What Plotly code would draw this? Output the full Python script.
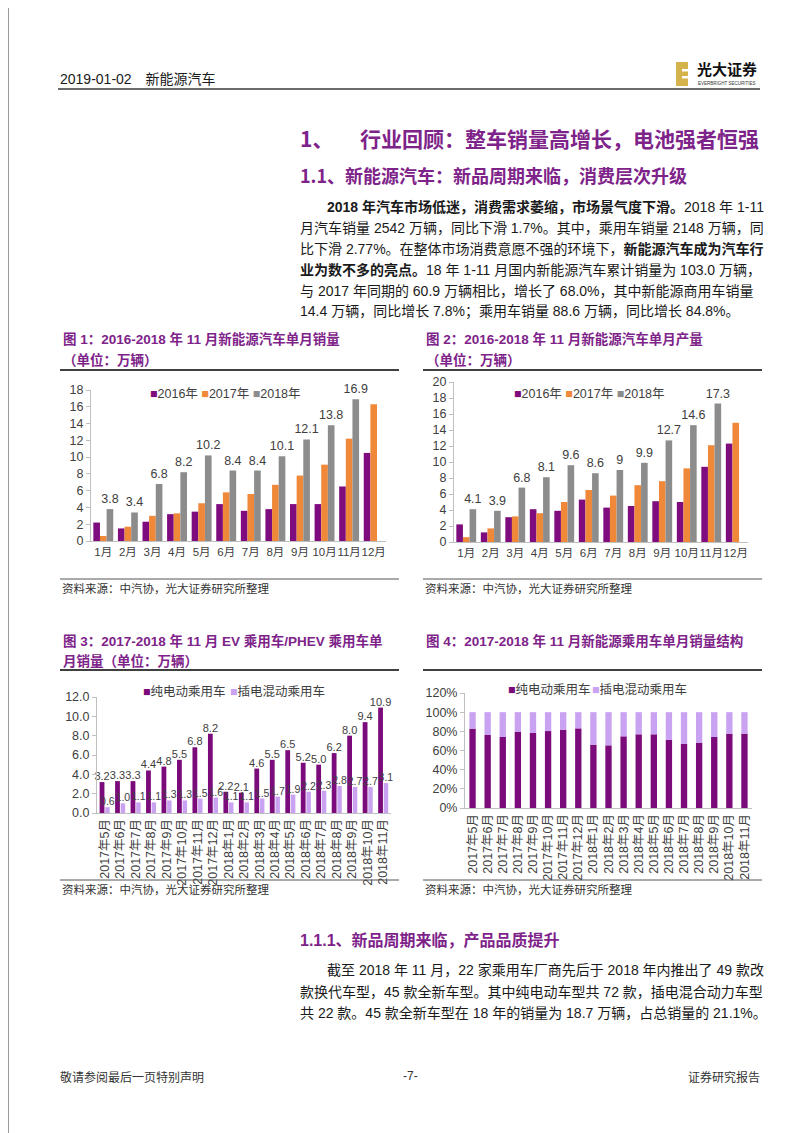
import plotly.graph_objects as go

W, H = 802, 1133

# ---------------- data ----------------
months = ["1月", "2月", "3月", "4月", "5月", "6月", "7月", "8月", "9月", "10月", "11月", "12月"]
sales_2016 = [2.2, 1.5, 2.3, 3.2, 3.5, 4.4, 3.6, 3.8, 4.4, 4.4, 6.5, 10.5]
sales_2017 = [0.6, 1.7, 3.0, 3.3, 4.5, 5.8, 5.6, 6.7, 7.8, 9.1, 12.2, 16.3]
sales_2018 = [3.8, 3.4, 6.8, 8.2, 10.2, 8.4, 8.4, 10.1, 12.1, 13.8, 16.9, None]

prod_2016 = [2.2, 1.2, 3.1, 4.1, 3.9, 5.3, 4.3, 4.5, 5.1, 5.0, 9.4, 12.3]
prod_2017 = [0.6, 1.7, 3.2, 3.6, 5.0, 6.5, 5.8, 7.1, 7.6, 9.2, 12.1, 14.9]
prod_2018 = [4.1, 3.9, 6.8, 8.1, 9.6, 8.6, 9.0, 9.9, 12.7, 14.6, 17.3, None]

ym = ["2017年5月", "2017年6月", "2017年7月", "2017年8月", "2017年9月", "2017年10月",
      "2017年11月", "2017年12月", "2018年1月", "2018年2月", "2018年3月", "2018年4月",
      "2018年5月", "2018年6月", "2018年7月", "2018年8月", "2018年9月", "2018年10月",
      "2018年11月"]
ev_sales = [3.2, 3.3, 3.3, 4.4, 4.8, 5.5, 6.8, 8.2, 2.2, 2.1, 4.6, 5.5, 6.5, 5.2, 5.0, 6.2, 8.0, 9.4, 10.9]
phev_sales = [0.6, 1.0, 1.1, 1.1, 1.3, 1.3, 1.5, 1.6, 1.1, 1.1, 1.5, 1.7, 1.9, 2.2, 2.3, 2.8, 2.7, 2.7, 3.1]

ev_share = [0.828, 0.762, 0.741, 0.797, 0.783, 0.803, 0.817, 0.831, 0.661, 0.654, 0.748,
            0.769, 0.769, 0.71, 0.668, 0.682, 0.741, 0.776, 0.776]
phev_share = [1 - v for v in ev_share]

series_years = ["2016年", "2017年", "2018年"]
ev_name, phev_name = "纯电动乘用车", "插电混动乘用车"

# ---------------- styles ----------------
C16, C17, C18 = "#7E0C7E", "#F0883A", "#8C8C8C"
CEV, CPHEV = "#7B0B7B", "#C9A3F2"
PURPLE = "#7E2389"
AX = "#BFBFBF"
TXT = "#404040"
CJK = "Noto Sans CJK SC"
NUMF = "Liberation Sans, Noto Sans CJK SC"
BODYF = "Liberation Sans Narrow, Liberation Sans, Noto Sans CJK SC"


def fx(px):
    return px / W


def fy(py):
    return 1 - py / H


fig = go.Figure()

# chart 1 & 2 bars
for (vals, col, off), name in zip([(sales_2016, C16, -0.405), (sales_2017, C17, -0.135), (sales_2018, C18, 0.135)], series_years):
    lab = name == "2018年"
    fig.add_trace(go.Bar(x=months, y=vals, name=name, marker=dict(color=col, line=dict(width=0)),
                         width=0.27, offset=off, xaxis="x", yaxis="y", showlegend=False,
                         texttemplate="%{y}" if lab else None,
                         textposition="outside" if lab else "none",
                         constraintext="none", cliponaxis=False,
                         textfont=dict(family=NUMF, size=12.5, color=TXT)))
for (vals, col, off), name in zip([(prod_2016, C16, -0.405), (prod_2017, C17, -0.135), (prod_2018, C18, 0.135)], series_years):
    lab = name == "2018年"
    fig.add_trace(go.Bar(x=months, y=vals, name=name, marker=dict(color=col, line=dict(width=0)),
                         width=0.27, offset=off, xaxis="x2", yaxis="y2", showlegend=False,
                         texttemplate="%{y}" if lab else None,
                         textposition="outside" if lab else "none",
                         constraintext="none", cliponaxis=False,
                         textfont=dict(family=NUMF, size=12.5, color=TXT)))

# chart 3
fig.add_trace(go.Bar(x=ym, y=ev_sales, name=ev_name, marker=dict(color=CEV, line=dict(width=0)),
                     width=0.31, offset=-0.33, xaxis="x3", yaxis="y3", showlegend=False,
                     texttemplate="%{y:.1f}", textposition="outside", constraintext="none",
                     cliponaxis=False, textfont=dict(family=NUMF, size=11, color=TXT)))
fig.add_trace(go.Bar(x=ym, y=phev_sales, name=phev_name, marker=dict(color=CPHEV, line=dict(width=0)),
                     width=0.29, offset=0.03, xaxis="x3", yaxis="y3", showlegend=False,
                     texttemplate="%{y:.1f}", textposition="outside", constraintext="none",
                     cliponaxis=False, textfont=dict(family=NUMF, size=10.5, color=TXT)))

# chart 4 (stacked via base)
fig.add_trace(go.Bar(x=ym, y=ev_share, name=ev_name, marker=dict(color=CEV, line=dict(width=0)),
                     width=0.42, offset=-0.21, xaxis="x4", yaxis="y4", showlegend=False))
fig.add_trace(go.Bar(x=ym, y=phev_share, base=ev_share, name=phev_name,
                     marker=dict(color=CPHEV, line=dict(width=0)),
                     width=0.42, offset=-0.21, xaxis="x4", yaxis="y4", showlegend=False))


def xax(l, r, angle=0, size=12):
    return dict(domain=[fx(l), fx(r)], showline=True, linecolor=AX, linewidth=1,
                ticks="", showgrid=False, zeroline=False, tickangle=angle,
                tickfont=dict(family=NUMF, size=size, color=TXT), automargin=False, fixedrange=True)


def yax(b, t, rng, dtick, fmt=None):
    d = dict(domain=[fy(b), fy(t)], range=rng, dtick=dtick, showline=True, linecolor=AX,
             linewidth=1, ticks="outside", ticklen=4, tickcolor=AX, showgrid=False,
             zeroline=False, tickfont=dict(family=NUMF, size=12.5, color=TXT), automargin=False,
             fixedrange=True)
    if fmt:
        d["tickformat"] = fmt
    return d


layout = dict(
    width=W, height=H, margin=dict(l=0, r=0, t=0, b=0),
    paper_bgcolor="white", plot_bgcolor="white", barmode="overlay", showlegend=False,
    font=dict(family=CJK, color="#222"),
)
x1 = xax(83, 378, 0, 11.5); x1["anchor"] = "y"
x2 = xax(446, 740, 0, 11.5); x2["anchor"] = "y2"
x3 = xax(89, 383, -90, 12.5); x3["anchor"] = "y3"
x4 = xax(457, 744, -90, 12.5); x4["anchor"] = "y4"
y1 = yax(533, 382, [0, 18], 2); y1["anchor"] = "x"
y2 = yax(534, 374, [0, 20], 2); y2["anchor"] = "x2"
y3 = yax(805, 689, [0, 12], 2, ".1f"); y3["anchor"] = "x3"
y4 = yax(800, 685, [0, 1.2], 0.2, ".0%"); y4["anchor"] = "x4"
layout.update(xaxis=x1, yaxis=y1, xaxis2=x2, yaxis2=y2, xaxis3=x3, yaxis3=y3, xaxis4=x4, yaxis4=y4)
fig.update_layout(**layout)

ann = []


def text(x, y, s, size=14, color="#1a1a1a", family=CJK, xanchor="left", yanchor="middle"):
    ann.append(dict(x=fx(x), y=fy(y), xref="paper", yref="paper", text=s, showarrow=False,
                    xanchor=xanchor, yanchor=yanchor, align="left",
                    font=dict(size=size, color=color, family=family)))


shapes = []


def hline(x0, x1_, y, color="#404040", width=1.5):
    shapes.append(dict(type="line", xref="paper", yref="paper", x0=fx(x0), x1=fx(x1_),
                       y0=fy(y), y1=fy(y), line=dict(color=color, width=width)))


# page border
shapes.append(dict(type="line", xref="paper", yref="paper", x0=fx(0.5), x1=fx(0.5), y0=0, y1=1,
                   line=dict(color="#9a9a9a", width=1)))
shapes.append(dict(type="line", xref="paper", yref="paper", x0=fx(801.5), x1=fx(801.5), y0=0, y1=1,
                   line=dict(color="#9a9a9a", width=1)))
hline(0, 802, 1130.5, "#8a8a8a", 1.5)

# header
text(50, 71, "2019-01-02　新能源汽车", 14, "#1a1a1a", BODYF)
hline(50, 752, 81, "#3a3a3a", 1.6)
shapes.append(dict(type="rect", xref="paper", yref="paper", x0=fx(668), x1=fx(680), y0=fy(78), y1=fy(54),
                   fillcolor="#D4B24C", line=dict(width=0)))
for yy in (61, 68):
    shapes.append(dict(type="rect", xref="paper", yref="paper", x0=fx(674), x1=fx(680.5), y0=fy(yy + 2.5),
                       y1=fy(yy), fillcolor="white", line=dict(width=0)))
text(687, 60, "<b>光大证券</b>", 15, "#111", CJK)
text(688, 75.5, "EVERBRIGHT SECURITIES", 4.5, "#333", NUMF)

# section titles
text(290, 130, "<b>1、</b>", 21, PURPLE)
text(753, 130, "<b>行业回顾：整车销量高增长，电池强者恒强</b>", 21, PURPLE, xanchor="right")
text(290, 167, "<b>1.1、新能源汽车：新品周期来临，消费层次升级</b>", 18, PURPLE)

body1 = [
    (317, "<b>2018 年汽车市场低迷，消费需求萎缩，市场景气度下滑。</b>2018 年 1-11"),
    (290, "月汽车销量 2542 万辆，同比下滑 1.7%。其中，乘用车销量 2148 万辆，同"),
    (290, "比下滑 2.77%。在整体市场消费意愿不强的环境下，<b>新能源汽车成为汽车行</b>"),
    (290, "<b>业为数不多的亮点。</b>18 年 1-11 月国内新能源汽车累计销量为 103.0 万辆，"),
    (290, "与 2017 年同期的 60.9 万辆相比，增长了 68.0%，其中新能源商用车销量"),
    (290, "14.4 万辆，同比增长 7.8%；乘用车销量 88.6 万辆，同比增长 84.8%。"),
]
for i, (x, s) in enumerate(body1):
    text(x, 199 + i * 21, s, 14, "#1a1a1a", BODYF)

# figure captions
text(53, 331, "<b>图 1：2016-2018 年 11 月新能源汽车单月销量</b>", 13.5, PURPLE, BODYF)
text(53, 352, "<b>（单位：万辆）</b>", 13.5, PURPLE, BODYF)
text(416, 331, "<b>图 2：2016-2018 年 11 月新能源汽车单月产量</b>", 13.5, PURPLE, BODYF)
text(416, 352, "<b>（单位：万辆）</b>", 13.5, PURPLE, BODYF)
hline(52, 391, 362, "#404040", 2)
hline(415, 754, 362, "#404040", 2)

text(53, 633, "<b>图 3：2017-2018 年 11 月 EV 乘用车/PHEV 乘用车单</b>", 13.5, PURPLE, BODYF)
text(53, 653, "<b>月销量（单位：万辆）</b>", 13.5, PURPLE, BODYF)
text(416, 633, "<b>图 4：2017-2018 年 11 月新能源乘用车单月销量结构</b>", 13.5, PURPLE, BODYF)
hline(52, 391, 662, "#404040", 2)
hline(415, 754, 662, "#404040", 2)


# legends
def sq(c):
    return f'<span style="color:{c}">■</span>'


text(140, 386, f"{sq(C16)}2016年 {sq(C17)}2017年 {sq(C18)}2018年", 12.5, TXT, NUMF)
text(504, 386, f"{sq(C16)}2016年 {sq(C17)}2017年 {sq(C18)}2018年", 12.5, TXT, NUMF)
text(133, 683, f"{sq(CEV)}{ev_name}", 12.5, TXT, NUMF)
text(220, 683, f"{sq(CPHEV)}{phev_name}", 12.5, TXT, NUMF)
text(498, 681, f"{sq(CEV)}{ev_name}", 12.5, TXT, NUMF)
text(582, 681, f"{sq(CPHEV)}{phev_name}", 12.5, TXT, NUMF)

# sources
hline(52, 391, 571, "#555", 1)
hline(415, 754, 571, "#555", 1)
text(52, 580, "资料来源：中汽协，光大证券研究所整理", 11.5, "#333", BODYF)
text(415, 580, "资料来源：中汽协，光大证券研究所整理", 11.5, "#333", BODYF)
hline(52, 391, 872, "#555", 1)
hline(415, 754, 872, "#555", 1)
text(52, 881, "资料来源：中汽协，光大证券研究所整理", 11.5, "#333", BODYF)
text(415, 881, "资料来源：中汽协，光大证券研究所整理", 11.5, "#333", BODYF)

# subsection
text(290, 932, "<b>1.1.1、新品周期来临，产品品质提升</b>", 16, PURPLE, BODYF)
body2 = [
    (317, "截至 2018 年 11 月，22 家乘用车厂商先后于 2018 年内推出了 49 款改"),
    (290, "款换代车型，45 款全新车型。其中纯电动车型共 72 款，插电混合动力车型"),
    (290, "共 22 款。45 款全新车型在 18 年的销量为 18.7 万辆，占总销量的 21.1%。"),
]
for i, (x, s) in enumerate(body2):
    text(x, 962 + i * 21.5, s, 14, "#1a1a1a", BODYF)

# footer
text(50, 1068, "敬请参阅最后一页特别声明", 12, "#333", CJK)
text(402, 1068, "-7-", 12, "#333", NUMF, xanchor="center")
text(754, 1068, "证券研究报告", 12, "#333", CJK, xanchor="right")

fig.update_layout(annotations=ann, shapes=shapes)
fig.write_html("out.html")
